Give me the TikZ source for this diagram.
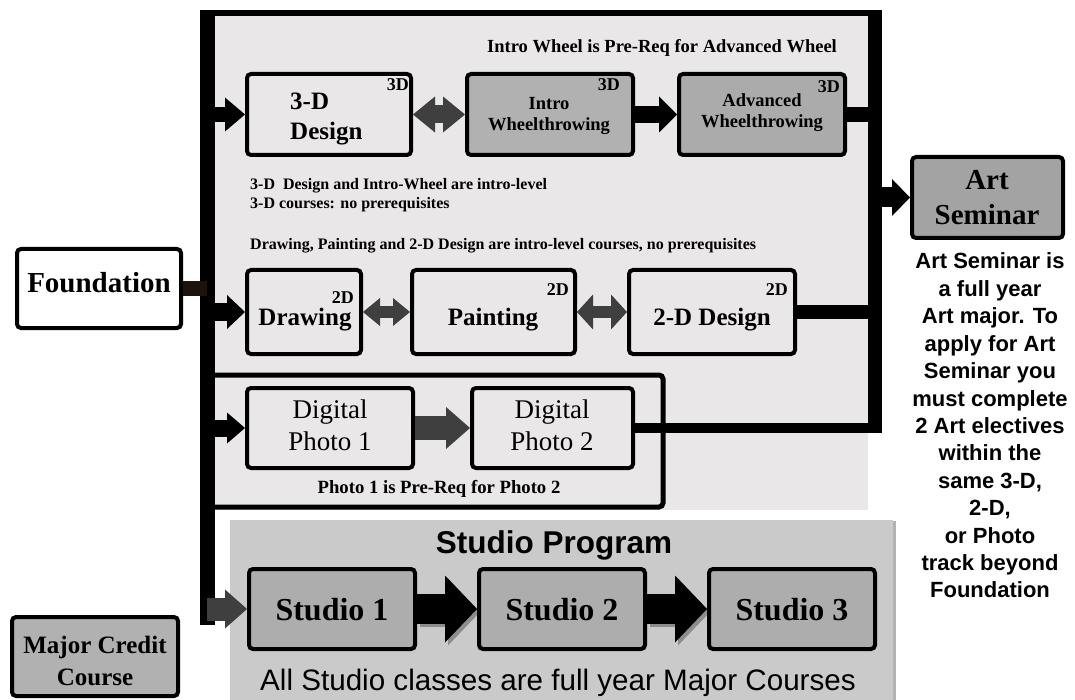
\documentclass[tikz,border=0pt]{standalone}
\usepackage{fontspec}
\setmainfont{Liberation Serif}
\setsansfont{Liberation Sans}
\usetikzlibrary{arrows.meta,shadows}

\definecolor{panel}{HTML}{E9E7E7}
\definecolor{midgray}{HTML}{B1B1B1}
\definecolor{advgray}{HTML}{ABABAB}
\definecolor{artgray}{HTML}{A3A3A3}
\definecolor{studiopanel}{HTML}{CACACA}
\definecolor{studiobox}{HTML}{ADADAD}
\definecolor{darkarrow}{HTML}{3F3F3F}
\definecolor{linkbrown}{HTML}{1E120C}

\newcommand\setfs[1]{\fontsize{#1}{#1}\selectfont}

\begin{document}
\begin{tikzpicture}[x=1pt,y=-1pt,
  course/.style={draw=black, line width=4pt, rounded corners=4pt, inner sep=0pt},
  txt/.style={inner sep=0pt, anchor=base},
  serifb/.style={txt, font=\setfs{#1}\bfseries},
  serifr/.style={txt, font=\setfs{#1}},
  sansb/.style={txt, font=\sffamily\setfs{#1}\bfseries},
  sansr/.style={txt, font=\sffamily\setfs{#1}},
  tag/.style={inner sep=0pt, anchor=north east, font=\setfs{18}\bfseries},
  fwd/.style n args={4}{draw=#4, line width=#1,
    -{Triangle[width=#2, length=#3, line width=0pt]}},
  both/.style n args={4}{draw=#4, line width=#1,
    {Triangle[width=#2, length=#3, line width=0pt]}-{Triangle[width=#2, length=#3, line width=0pt]}},
  softshadow/.style={transform canvas={xshift=3pt, yshift=-3pt}, opacity=.3},
]
\useasboundingbox (0,0) rectangle (1075,700);

% light panel holding the elective tracks
\fill[panel] (213,15) rectangle (868,510);

% studio program panel
\node[fill=studiopanel, minimum width=663pt, minimum height=190pt, anchor=north west,
  inner sep=0pt, drop shadow={shadow xshift=2.5pt, shadow yshift=-1pt, opacity=.6}]
  (studio) at (230,520) {};

% frame around the photo track
\coordinate (pgTL) at (207,375);
\coordinate (pgTR) at (663,375);
\coordinate (pgBR) at (663,507);
\coordinate (pgBL) at (207,507);
\draw[line width=5pt, rounded corners=4pt] (pgTL) -- (pgTR) -- (pgBR) -- (pgBL);

% feeder bars
\coordinate (lbT) at (207,10);
\coordinate (lbB) at (207,625);
\coordinate (lbC) at (207,0);
\coordinate (lbE) at (214,0);
\coordinate (rbT) at (875,10);
\coordinate (rbB) at (875,432);
\coordinate (rbC) at (875,0);
\coordinate (rbR) at (882,0);
\coordinate (tlL) at (200,13);
\coordinate (tlR) at (882,13);
\draw[line width=15pt] (lbT) -- (lbB);
\draw[line width=14pt] (rbT) -- (rbB);
\draw[line width=6pt] (tlL) -- (tlR);

% course boxes
\node[course, fill=white,     minimum width=164pt, minimum height=79pt] (found) at (99,288.5) {};
\node[course, fill=panel,     minimum width=164pt, minimum height=81pt] (d3)    at (329,114.5) {};
\node[course, fill=midgray,   minimum width=166pt, minimum height=81pt] (intro) at (550,114.5) {};
\node[course, fill=advgray,   minimum width=166pt, minimum height=81pt] (adv)   at (762,114.5) {};
\node[course, fill=panel,     minimum width=114pt, minimum height=84pt] (drw)   at (304,312) {};
\node[course, fill=panel,     minimum width=163pt, minimum height=84pt] (pnt)   at (493.5,312) {};
\node[course, fill=panel,     minimum width=166pt, minimum height=84pt] (twod)  at (712,312) {};
\node[course, fill=panel,     minimum width=166pt, minimum height=80pt] (ph1)   at (330,428) {};
\node[course, fill=panel,     minimum width=161pt, minimum height=80pt] (ph2)   at (552.5,428) {};
\node[course, fill=studiobox, minimum width=166pt, minimum height=80pt] (st1)   at (332,609) {};
\node[course, fill=studiobox, minimum width=166pt, minimum height=80pt] (st2)   at (562,609) {};
\node[course, fill=studiobox, minimum width=166pt, minimum height=80pt] (st3)   at (792,609) {};
\node[course, fill=artgray,   minimum width=151pt, minimum height=81pt] (art)   at (987.5,197.5) {};
\node[course, fill=midgray,   minimum width=166pt, minimum height=79pt] (major) at (95,656.5) {};

% connectors into the bars
\draw[line width=15pt, linkbrown] (found.east) -- (found.east -| lbC);
\draw[line width=15pt] (adv.east) -- (adv.east -| rbC);
\draw[line width=14pt] (twod.east) -- (twod.east -| rbC);
\draw[line width=10pt] (ph2.east) -- (ph2.east -| rbR);

% arrows
\draw[fwd={15pt}{34pt}{20pt}{black}] (d3.west -| lbE) -- (d3.west);
\draw[fwd={18pt}{34pt}{18pt}{black}] (drw.west -| lbE) -- (drw.west);
\draw[fwd={17pt}{31pt}{18pt}{black}] (ph1.west -| lbE) -- (ph1.west);
\draw[fwd={23pt}{39pt}{22pt}{darkarrow}] (st1.west -| lbC) -- (st1.west);
\draw[both={18pt}{36pt}{22pt}{darkarrow}] (d3.east) -- (intro.west);
\draw[fwd={17pt}{36pt}{18pt}{black}] (intro.east) -- (adv.west);
\draw[both={12pt}{28pt}{17pt}{darkarrow}] (drw.east) -- (pnt.west);
\draw[both={12pt}{35pt}{16pt}{darkarrow}] (pnt.east) -- (twod.west);
\draw[fwd={24pt}{42pt}{24pt}{darkarrow}] (ph1.east) -- (ph2.west);
\draw[fwd={20pt}{37pt}{18pt}{black}] (art.west -| rbR) -- (art.west);
\draw[fwd={30pt}{67pt}{32pt}{black}, softshadow] (st1.east) -- (st2.west);
\draw[fwd={30pt}{67pt}{32pt}{black}, softshadow] (st2.east) -- (st3.west);
\draw[fwd={30pt}{67pt}{32pt}{black}] (st1.east) -- (st2.west);
\draw[fwd={30pt}{67pt}{32pt}{black}] (st2.east) -- (st3.west);

% track tags
\node[tag] (d3tag)    at ([shift={(-4,6)}]d3.north east) {3D};
\node[tag] (introtag) at ([shift={(-15,6)}]intro.north east) {3D};
\node[tag] (advtag)   at ([shift={(-7,8)}]adv.north east) {3D};
\node[tag] (drwtag)   at ([shift={(-9,23)}]drw.north east) {2D};
\node[tag] (pnttag)   at ([shift={(-8,15)}]pnt.north east) {2D};
\node[tag] (twodtag)  at ([shift={(-9,15)}]twod.north east) {2D};

% course names
\node[serifb=25, anchor=base west] (d3a) at (290,110) {3-D};
\node[serifb=25, anchor=base west] (d3b) at (290,140) {Design};
\node[serifb=18.5] (intra) at (549,110) {Intro};
\node[serifb=18.5] (intrb) at (549,131) {Wheelthrowing};
\node[serifb=18.5] (adva) at (762,107) {Advanced};
\node[serifb=18.5] (advb) at (762,128) {Wheelthrowing};
\node[serifb=25] (drwt) at (305,325) {Drawing};
\node[serifb=25] (pntt) at (493,325) {Painting};
\node[serifb=25] (twodt) at (712,325) {2-D Design};
\node[serifr=27] (ph1a) at (330,418) {Digital};
\node[serifr=27] (ph1b) at (330,450) {Photo 1};
\node[serifr=27] (ph2a) at (552,418) {Digital};
\node[serifr=27] (ph2b) at (552,450) {Photo 2};
\node[serifb=29] (foundt) at (99,293) {Foundation};
\node[serifb=29] (arta) at (987,190) {Art};
\node[serifb=29] (artb) at (987,225) {Seminar};
\node[serifb=25] (maja) at (95,653) {Major Credit};
\node[serifb=25] (majb) at (95,685) {Course};
\node[serifb=32] (st1t) at (332,620) {Studio 1};
\node[serifb=32] (st2t) at (562,620) {Studio 2};
\node[serifb=32] (st3t) at (792,620) {Studio 3};

% notes
\node[serifb=18.5] (wheelnote) at (662,53) {Intro Wheel is Pre-Req for Advanced Wheel};
\node[serifb=16, anchor=base west] (note3a) at (250,190) {3-D\ \ Design and Intro-Wheel are intro-level};
\node[serifb=16, anchor=base west] (note3b) at (250,209) {3-D courses: no prerequisites};
\node[serifb=16, anchor=base west] (note2) at (250,250) {Drawing, Painting and 2-D Design are intro-level courses, no prerequisites};
\node[serifb=18.7] (photonote) at (439,493) {Photo 1 is Pre-Req for Photo 2};
\node[sansb=31.5] (sptitle) at (554,553) {Studio Program};
\node[sansr=29.6] (spnote) at (558,690) {All Studio classes are full year Major Courses};

% seminar requirements
\foreach \line [count=\i] in {Art Seminar is, a full year, Art major. To, apply for Art,
  Seminar you, must complete, 2 Art electives, within the, {same 3-D,}, {2-D,},
  or Photo, track beyond, Foundation}
  \node[sansb=22] (req\i) at (990,{269+(\i-1)*27.4}) {\line};

\end{tikzpicture}
\end{document}
